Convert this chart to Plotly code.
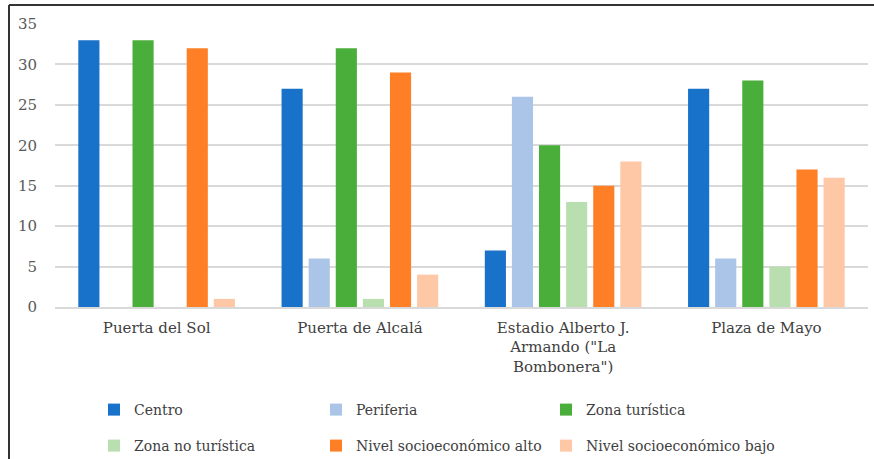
import plotly.graph_objects as go

# Lugares encuestados (ejes de categorías)
lugares = [
    "Puerta del Sol",
    "Puerta de Alcalá",
    "Estadio Alberto J.<br>Armando (\"La<br>Bombonera\")",
    "Plaza de Mayo",
]

# Valores por serie
centro = [33, 27, 7, 27]
periferia = [0, 6, 26, 6]
zona_turistica = [33, 32, 20, 28]
zona_no_turistica = [0, 1, 13, 5]
nivel_alto = [32, 29, 15, 17]
nivel_bajo = [1, 4, 18, 16]

series_names = ["Centro", "Periferia", "Zona turística",
                "Zona no turística", "Nivel socioeconómico alto",
                "Nivel socioeconómico bajo"]
series_values = [centro, periferia, zona_turistica,
                 zona_no_turistica, nivel_alto, nivel_bajo]
series_colors = ["#1872C9", "#AAC5E7", "#4AAE3A",
                 "#B9DFB0", "#FF7F27", "#FEC8A6"]

W, H = 874, 459
L, R, T, B = 55, 6, 24, 152

font = "DejaVu Serif"
fsize = 15
pw, ph = W - L - R, H - T - B

# Leyenda en rejilla de 3 columnas x 2 filas (una leyenda por entrada)
legend_text_x = [134, 356, 586]
legend_row_y = [410, 446]

fig = go.Figure()
legend_layouts = {}
for i, (name, vals, color) in enumerate(zip(series_names, series_values, series_colors)):
    key = "legend" if i == 0 else f"legend{i + 1}"
    fig.add_trace(go.Bar(
        x=lugares, y=vals, name=name, legend=key, showlegend=True,
        marker=dict(color=color, line=dict(width=0)),
    ))
    col, row = i % 3, i // 3
    legend_layouts[key] = dict(
        orientation="h", xref="container", yref="container",
        xanchor="left", yanchor="middle",
        x=(legend_text_x[col] - 40) / W, y=(H - legend_row_y[row]) / H,
        itemwidth=30, visible=True,
        font=dict(family=font, size=14, color="#404040"),
        bgcolor="rgba(0,0,0,0)",
    )

# Marco: sólo bordes superior e izquierdo
frame_x0 = (9 - L) / pw
frame_x1 = (W + 2 - L) / pw
frame_y0 = (H - B - 470) / ph
frame_y1 = (H - B - 5) / ph

fig.update_layout(
    width=W, height=H,
    margin=dict(l=L, r=R, t=T, b=B),
    paper_bgcolor="white", plot_bgcolor="white",
    showlegend=True,
    barmode="group", bargap=0.2, bargroupgap=0.22,
    font=dict(family=font, size=fsize, color="#404040"),
    xaxis=dict(
        showgrid=False, showline=True, linecolor="#D9D9D9", linewidth=1.5,
        ticks="", tickfont=dict(family=font, size=fsize, color="#404040"),
        ticklabelstandoff=6,
    ),
    yaxis=dict(
        range=[0, 35], dtick=5, showgrid=True, gridcolor="#D9D9D9", gridwidth=1.5,
        zeroline=False, showline=False, ticks="",
        tickfont=dict(family=font, size=fsize, color="#595959"),
        ticklabelstandoff=17,
    ),
    shapes=[
        dict(type="line", xref="paper", yref="paper",
             x0=frame_x0, x1=frame_x0, y0=frame_y0, y1=frame_y1,
             line=dict(color="#333333", width=2), layer="below"),
        dict(type="line", xref="paper", yref="paper",
             x0=frame_x0, x1=frame_x1, y0=frame_y1, y1=frame_y1,
             line=dict(color="#333333", width=2), layer="below"),
    ],
    **legend_layouts,
)

fig.write_html("out.html")
